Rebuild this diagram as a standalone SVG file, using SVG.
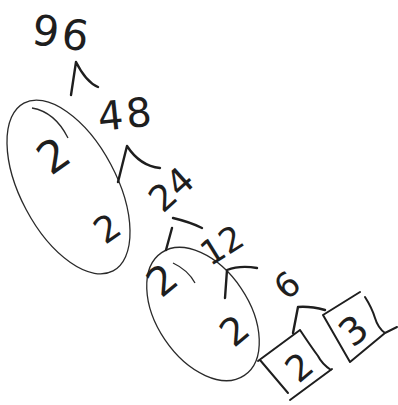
<svg xmlns="http://www.w3.org/2000/svg" width="398" height="405" viewBox="0 0 398 405">
<style>
.d{font-family:"DejaVu Sans","Liberation Sans",sans-serif;fill:#1e1e1e;text-anchor:middle}
.c{fill:none;stroke:#1e1e1e;stroke-width:2.4;stroke-linecap:round;stroke-linejoin:round}
.e{fill:none;stroke:#2a2a2a;stroke-width:1.3}
.b{fill:none;stroke:#1e1e1e;stroke-width:2;stroke-linecap:round}
</style>
<rect width="398" height="405" fill="#fff"/>
<g id="n96"><text class="d" font-size="42" letter-spacing="3" transform="translate(62,33) rotate(8)" y="15">96</text></g>
<g id="n48"><text class="d" font-size="40" letter-spacing="3" transform="translate(126,114) rotate(-6)" y="14">48</text></g>
<g id="group1">
<ellipse class="e" cx="68.5" cy="187" rx="95" ry="48" transform="rotate(62 68.5 187)"/>
<path class="e" d="M32,108 Q55,112 68,138"/>
<text class="d" font-size="44" transform="translate(53,155) rotate(-35)" y="16">2</text>
<text class="d" font-size="36" transform="translate(107,228) rotate(-35)" y="13">2</text>
</g>
<g id="n24"><text class="d" font-size="36" transform="translate(171,189) rotate(-42)" y="13">24</text></g>
<g id="group2">
<ellipse class="e" cx="203" cy="314" rx="74" ry="46" transform="rotate(56 203 314)"/>
<path class="e" d="M173,263 Q188,270 195,283"/>
<text class="d" font-size="40" transform="translate(162,280) rotate(-40)" y="14">2</text>
<text class="d" font-size="38" transform="translate(234,330) rotate(-40)" y="14">2</text>
</g>
<g id="n12"><text class="d" font-size="34" transform="translate(222,245) rotate(-32)" y="12">12</text></g>
<g id="n6"><text class="d" font-size="34" transform="translate(287,285) rotate(-40)" y="12">6</text></g>
<g id="box2">
<path class="b" d="M258,361 L300,330 M260,360 L288,393 M300,330 Q312,348 318,356 Q322,364 331,370 M290,400 L332,369"/>
<text class="d" font-size="36" transform="translate(299,367) rotate(-40)" y="13">2</text>
</g>
<g id="box3">
<path class="b" d="M323,315 L360,292 M323,315 L350,362 M350,362 L385,333 M365,297 Q372,308 375,318 Q378,328 385,333 L397,327"/>
<text class="d" font-size="38" transform="translate(353,330) rotate(-40)" y="14">3</text>
</g>
<g id="connectors">
<path class="c" d="M71,95 L76,62 Q86,82 98,87"/>
<path class="c" d="M118,182 L127,146 Q140,166 160,168"/>
<path class="c" d="M166,250 L172,228 M173,218 Q190,222 202,228"/>
<path class="c" d="M225,298 L227,270 Q240,265 257,268"/>
<path class="c" d="M293,333 L298,307 Q310,306 325,310"/>
</g>
</svg>
